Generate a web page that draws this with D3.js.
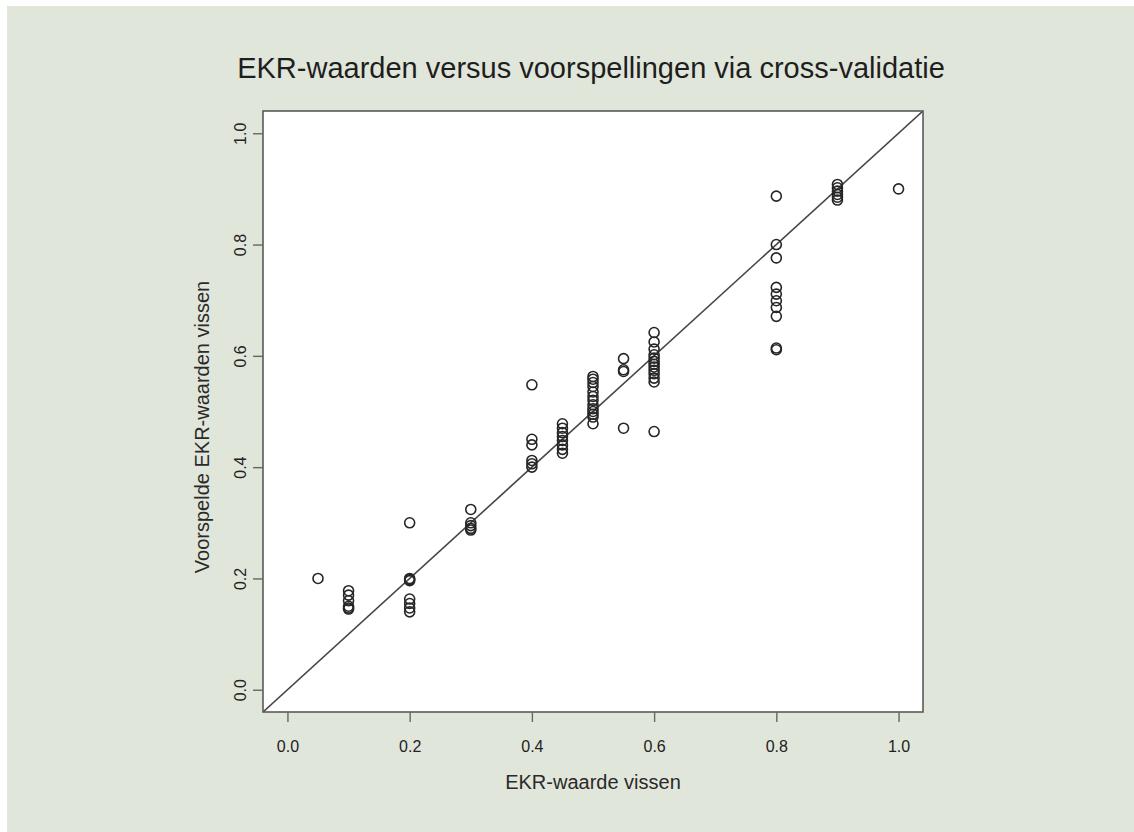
<!DOCTYPE html>
<html>
<head>
<meta charset="utf-8">
<script src="https://cdn.jsdelivr.net/npm/d3@7"></script>
<style>
  html, body { margin: 0; padding: 0; background: #ffffff; }
  svg { display: block; }
  text { font-family: "Liberation Sans", Arial, Helvetica, sans-serif; }
</style>
</head>
<body>
<script>
// Observed EKR values (x) and cross-validated predictions (y), grouped per observed value
const observed = [0.05, 0.1, 0.2, 0.3, 0.4, 0.45, 0.5, 0.55, 0.6, 0.8, 0.9, 1.0];
const predicted = [
  [0.200],
  [0.178, 0.170, 0.160, 0.150, 0.147, 0.145],
  [0.300, 0.200, 0.198, 0.196, 0.163, 0.155, 0.147, 0.140],
  [0.324, 0.300, 0.295, 0.290, 0.287],
  [0.548, 0.450, 0.440, 0.412, 0.406, 0.400],
  [0.478, 0.470, 0.462, 0.455, 0.448, 0.440, 0.432, 0.425],
  [0.563, 0.558, 0.552, 0.545, 0.535, 0.527, 0.520, 0.512, 0.505, 0.500, 0.495, 0.490, 0.478],
  [0.595, 0.575, 0.572, 0.470],
  [0.642, 0.625, 0.612, 0.602, 0.596, 0.590, 0.585, 0.580, 0.574, 0.568, 0.560, 0.553, 0.464],
  [0.887, 0.800, 0.776, 0.723, 0.711, 0.699, 0.687, 0.671, 0.614, 0.611],
  [0.908, 0.902, 0.896, 0.890, 0.885, 0.880],
  [0.900]
];
const xTicks = [0.0, 0.2, 0.4, 0.6, 0.8, 1.0];
const yTicks = [0.0, 0.2, 0.4, 0.6, 0.8, 1.0];
const titleText = "EKR-waarden versus voorspellingen via cross-validatie";
const xLabel = "EKR-waarde vissen";
const yLabel = "Voorspelde EKR-waarden vissen";

const W = 1134, H = 832;
const box = { left: 263, right: 923, top: 111, bottom: 712 };

const points = [];
observed.forEach((xv, i) => predicted[i].forEach(yv => points.push({ x: xv, y: yv })));

const svg = d3.select("body").append("svg").attr("width", W).attr("height", H);

// page background with thin white edge on top and left
svg.append("rect").attr("x", 0).attr("y", 0).attr("width", W).attr("height", H).attr("fill", "#ffffff");
svg.append("rect").attr("x", 7).attr("y", 6).attr("width", W - 7).attr("height", H - 6).attr("fill", "#e1e6db");

// 4% padding on each side of the [0, 1] range
const pad = 0.04;
const x = d3.scaleLinear().domain([-pad, 1 + pad]).range([box.left, box.right]);
const y = d3.scaleLinear().domain([-pad, 1 + pad]).range([box.bottom, box.top]);

// plotting region
svg.append("rect")
  .attr("x", box.left).attr("y", box.top)
  .attr("width", box.right - box.left).attr("height", box.bottom - box.top)
  .attr("fill", "#ffffff");

svg.append("defs").append("clipPath").attr("id", "plotclip")
  .append("rect")
  .attr("x", box.left).attr("y", box.top)
  .attr("width", box.right - box.left).attr("height", box.bottom - box.top);

// identity line y = x
svg.append("line")
  .attr("clip-path", "url(#plotclip)")
  .attr("x1", x(-pad)).attr("y1", y(-pad))
  .attr("x2", x(1 + pad)).attr("y2", y(1 + pad))
  .attr("stroke", "#4a4545").attr("stroke-width", 1.6);

// points
svg.append("g").selectAll("circle").data(points).join("circle")
  .attr("cx", d => x(d.x)).attr("cy", d => y(d.y)).attr("r", 5)
  .attr("fill", "none").attr("stroke", "#262626").attr("stroke-width", 1.6);

// frame
svg.append("rect")
  .attr("x", box.left).attr("y", box.top)
  .attr("width", box.right - box.left).attr("height", box.bottom - box.top)
  .attr("fill", "none").attr("stroke", "#5a5a5a").attr("stroke-width", 1.6);

// x axis
const xAxis = d3.axisBottom(x).tickValues(xTicks).tickFormat(d3.format(".1f")).tickSize(10).tickSizeOuter(0);
const gx = svg.append("g").attr("transform", `translate(0,${box.bottom})`).call(xAxis);
gx.select(".domain").remove();
gx.selectAll(".tick line").attr("stroke", "#666").attr("stroke-width", 1.4);
gx.selectAll(".tick text")
  .attr("y", 0).attr("dy", null)
  .attr("transform", "translate(0,40)")
  .attr("font-size", 16).attr("fill", "#222").attr("text-anchor", "middle");

// y axis with labels rotated along the axis
const yAxis = d3.axisLeft(y).tickValues(yTicks).tickFormat(d3.format(".1f")).tickSize(10).tickSizeOuter(0);
const gy = svg.append("g").attr("transform", `translate(${box.left},0)`).call(yAxis);
gy.select(".domain").remove();
gy.selectAll(".tick line").attr("stroke", "#666").attr("stroke-width", 1.4);
gy.selectAll(".tick text")
  .attr("x", 0).attr("dy", null)
  .attr("transform", "translate(-17,0) rotate(-90)")
  .attr("text-anchor", "middle")
  .attr("font-size", 16).attr("fill", "#222");

// titles
svg.append("text")
  .attr("x", 591).attr("y", 78)
  .attr("text-anchor", "middle").attr("font-size", 29).attr("fill", "#1e1e1e")
  .text(titleText);

svg.append("text")
  .attr("x", 593).attr("y", 789)
  .attr("text-anchor", "middle").attr("font-size", 20).attr("fill", "#2a2a2a")
  .text(xLabel);

svg.append("text")
  .attr("transform", "translate(209,427) rotate(-90)")
  .attr("text-anchor", "middle").attr("font-size", 20).attr("fill", "#2a2a2a")
  .text(yLabel);
</script>
</body>
</html>
